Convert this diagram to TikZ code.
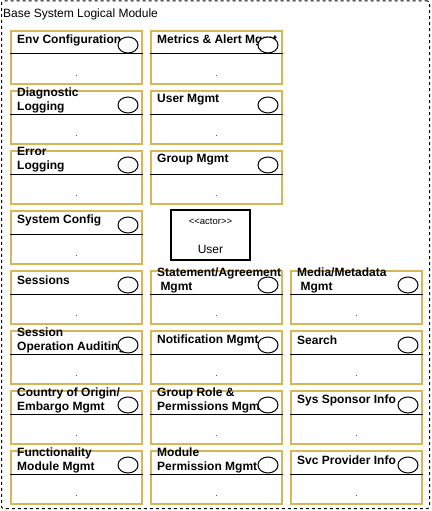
\documentclass[tikz,border=0pt]{standalone}
\usepackage{fontspec}
\setmainfont{Liberation Sans}
\usetikzlibrary{shapes.geometric}
\definecolor{boxgold}{HTML}{D6B656}
\tikzset{
  outerbox/.style={draw=black, line width=1pt, dash pattern=on 3pt off 3pt, rounded corners=2pt, minimum width=428pt, minimum height=507.5pt, inner sep=0pt},
  titletext/.style={anchor=west, inner sep=0pt, font=\fontsize{12}{14}\selectfont},
  modbox/.style={draw=boxgold, line width=2pt, fill=white, minimum width=131pt, minimum height=53pt, inner sep=0pt, anchor=north west},
  divline/.style={draw=black, line width=1pt},
  modlabel/.style={anchor=west, align=left, inner sep=0pt, font=\bfseries\fontsize{12}{14}\selectfont},
  modcirc/.style={ellipse, draw=black, line width=1pt, fill=white, minimum width=20pt, minimum height=16pt, inner sep=0pt},
  moddot/.style={inner sep=0pt, font=\fontsize{8}{8}\selectfont},
  actorbox/.style={draw=black, line width=2pt, fill=white, minimum width=79pt, minimum height=50pt, inner sep=0pt},
  actorsmall/.style={inner sep=0pt, font=\fontsize{9.5}{10}\selectfont},
  actorname/.style={inner sep=0pt, font=\fontsize{12}{14}\selectfont},
}
\newcommand\umlbox[4]{%
  \node[modbox] (#1) at (#2,#3) {};
  \draw[divline] ([yshift=-24pt]#1.north west) -- ([yshift=-24pt]#1.north east);
  \node[modlabel] (#1-t) at ([xshift=7pt,yshift=-10pt]#1.north west) {#4};
  \node[modcirc] (#1-c) at ([xshift=-15pt,yshift=-15pt]#1.north east) {};
  \node[moddot] (#1-d) at ([yshift=-46pt]#1.north) {.};
}
\begin{document}
\begin{tikzpicture}[x=1pt,y=-1pt]
\useasboundingbox (0,0) rectangle (431,511);
\node[outerbox] (outer) at (215.5,254.75) {};
\node[titletext] (title) at (3,14) {Base System Logical Module};
% column 1
\umlbox{envcfg}{10}{30}{Env Configuration}
\umlbox{diaglog}{10}{90}{Diagnostic\\Logging}
\umlbox{errlog}{10}{150}{Error\\Logging}
\umlbox{syscfg}{10}{210}{System Config}
\umlbox{sessions}{10}{270}{Sessions}
\umlbox{sessaudit}{10}{330}{Session\\Operation Auditing}
\umlbox{country}{10}{390}{Country of Origin/\\Embargo Mgmt}
\umlbox{funcmod}{10}{450}{Functionality\\Module Mgmt}
% column 2
\umlbox{metrics}{150}{30}{Metrics \& Alert Mgmt}
\umlbox{usermgmt}{150}{90}{User Mgmt}
\umlbox{groupmgmt}{150}{150}{Group Mgmt}
\umlbox{statement}{150}{270}{Statement/Agreement\\\hspace*{3.3pt}Mgmt}
\umlbox{notif}{150}{330}{Notification Mgmt}
\umlbox{grouprole}{150}{390}{Group Role \&\\Permissions Mgmt}
\umlbox{modperm}{150}{450}{Module\\Permission Mgmt}
% column 3
\umlbox{media}{290}{270}{Media/Metadata\\\hspace*{3.3pt}Mgmt}
\umlbox{search}{290}{330}{Search}
\umlbox{sponsor}{290}{390}{Sys Sponsor Info}
\umlbox{provider}{290}{450}{Svc Provider Info}
% actor
\node[actorbox] (actor) at (210.5,235) {};
\node[actorsmall] (actor-s) at (210.5,221) {{<}{<}actor{>}{>}};
\node[actorname] (actor-n) at (210.5,249.5) {User};
\end{tikzpicture}
\end{document}
